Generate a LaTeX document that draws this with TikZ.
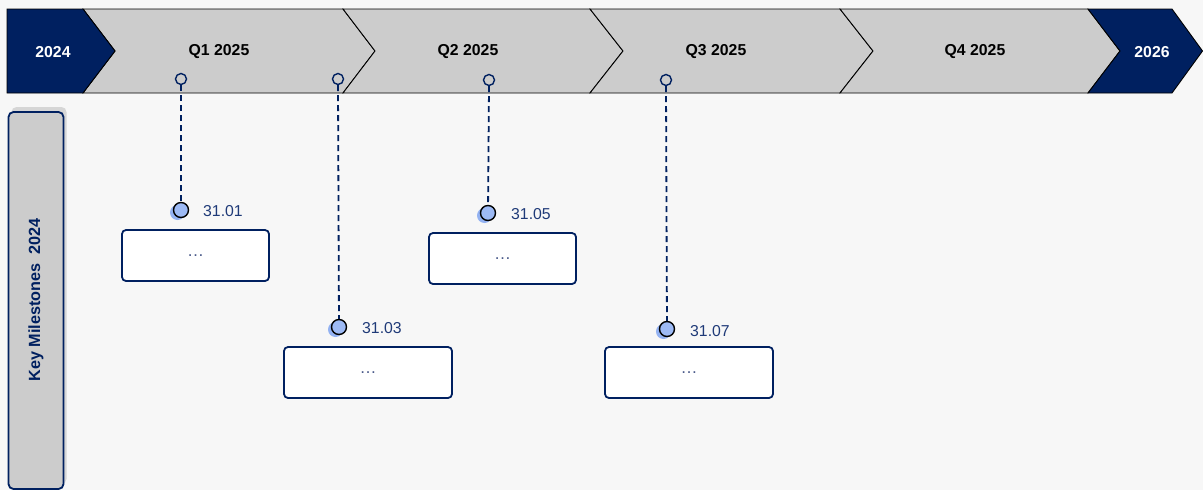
\documentclass[tikz,border=0pt]{standalone}
\usepackage{fontspec}
\setmainfont{Liberation Sans}
\usetikzlibrary{shadows}
\definecolor{navy}{HTML}{002060}
\definecolor{chev}{HTML}{CCCCCC}
\definecolor{bgc}{HTML}{F7F7F7}
\definecolor{txtnavy}{HTML}{1F3A78}
\definecolor{dotblue}{HTML}{9DBAF5}
\definecolor{dotshadow}{HTML}{93B2F2}
\definecolor{dots}{HTML}{4A5A8A}
\definecolor{sideshadow}{HTML}{D6D6D6}
\begin{document}
\begin{tikzpicture}[x=1pt,y=-1pt,
  chevron/.style={fill=chev,draw=black,line width=0.9pt,line join=miter},
  darkchev/.style={fill=navy,draw=black,line width=0.9pt,line join=miter},
  bantext/.style={font=\fontsize{15.8}{18}\selectfont\bfseries,text=black,inner sep=0pt},
  bandark/.style={font=\fontsize{15.8}{18}\selectfont\bfseries,text=white,inner sep=0pt},
  pinhead/.style={circle,draw=navy,fill=chev,line width=1.4pt,minimum size=11pt,inner sep=0pt},
  mstone/.style={circle,draw=black,fill=dotblue,line width=1.4pt,minimum size=15pt,inner sep=0pt,
    drop shadow={shadow xshift=-3.5pt,shadow yshift=-2.5pt,fill=dotshadow,opacity=1}},
  datelbl/.style={font=\fontsize{15.8}{18}\selectfont,text=txtnavy,inner sep=0pt,anchor=west},
  mbox/.style={rectangle,rounded corners=4pt,draw=navy,fill=white,line width=1.8pt,
    minimum height=51pt,text=dots,font=\fontsize{17}{18}\selectfont},
  stemline/.style={draw=navy,line width=1.8pt,dash pattern=on 6pt off 4pt},
  sidebar/.style={rectangle,rounded corners=5pt,draw=navy,fill=chev,line width=1.8pt,
    minimum width=55pt,minimum height=377pt,
    drop shadow={shadow xshift=3pt,shadow yshift=5pt,fill=sideshadow,opacity=1}}
]
\fill[bgc] (0,0) rectangle (1203,490);
\useasboundingbox (0,0) rectangle (1203,490);

% banner
\draw[chevron] (83,9) -- (343,9) -- (375,51) -- (343,93) -- (83,93) -- (115,51) -- cycle;
\draw[chevron] (343,9) -- (590,9) -- (623,51) -- (590,93) -- (343,93) -- (375,51) -- cycle;
\draw[chevron] (590,9) -- (840,9) -- (873,51) -- (840,93) -- (590,93) -- (623,51) -- cycle;
\draw[chevron] (840,9) -- (1088,9) -- (1120,51) -- (1088,93) -- (840,93) -- (873,51) -- cycle;
\draw[darkchev] (7,9) -- (83,9) -- (115,51) -- (83,93) -- (7,93) -- cycle;
\draw[darkchev] (1088,9) -- (1172,9) -- (1202.5,51) -- (1172,93) -- (1088,93) -- (1120,51) -- cycle;

\node[bandark] (y2024) at (53,52) {2024};
\node[bantext] (q1) at (219,52) {Q1 2025};
\node[bantext] (q2) at (468,52) {Q2 2025};
\node[bantext] (q3) at (716,52) {Q3 2025};
\node[bantext] (q4) at (975,52) {Q4 2025};
\node[bandark] (y2026) at (1152,52) {2026};

% side bar
\node[sidebar] (kb) at (36,300.5) {};
\node[rotate=90,font=\fontsize{16.2}{18}\selectfont\bfseries,text=navy,inner sep=0pt] (kbt) at (36,300) {Key Milestones\ \ 2024};

% pins in banner
\node[pinhead] (p1) at (181,79) {};
\node[pinhead] (p2) at (338,79) {};
\node[pinhead] (p3) at (489,80) {};
\node[pinhead] (p4) at (666,80) {};

% milestone dots (positions)
\coordinate (c1) at (181,210);
\coordinate (c2) at (339,327);
\coordinate (c3) at (488,213);
\coordinate (c4) at (667,329);

% stems
\draw[stemline] (p1.south) -- (c1);
\draw[stemline] (p2.south) -- (c2);
\draw[stemline] (p3.south) -- (c3);
\draw[stemline] (p4.south) -- (c4);

\node[mstone] (m1) at (c1) {};
\node[mstone] (m2) at (c2) {};
\node[mstone] (m3) at (c3) {};
\node[mstone] (m4) at (c4) {};

% labels
\node[datelbl] (l1) at (203,211) {31.01};
\node[datelbl] (l2) at (362,328) {31.03};
\node[datelbl] (l3) at (511,214) {31.05};
\node[datelbl] (l4) at (690,331) {31.07};

% boxes
\node[mbox,minimum width=147pt] (b1) at (195.5,255.5) {…};
\node[mbox,minimum width=168pt] (b2) at (368,372.5) {…};
\node[mbox,minimum width=147pt] (b3) at (502.5,258.5) {…};
\node[mbox,minimum width=168pt] (b4) at (689,372.5) {…};
\end{tikzpicture}
\end{document}
